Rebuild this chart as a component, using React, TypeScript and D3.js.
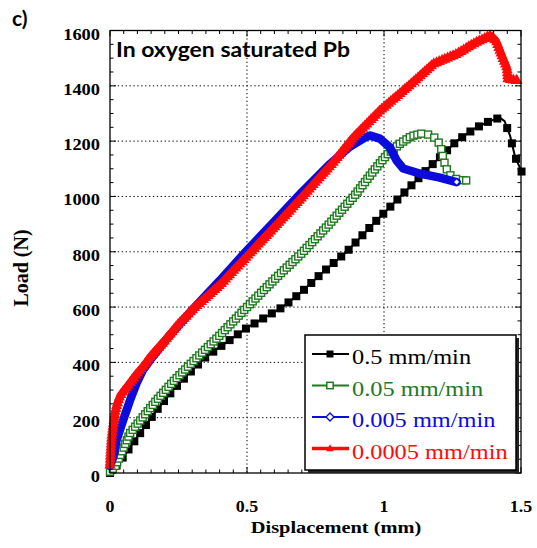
import React from "react";
import * as d3 from "d3";

// ---------- data ----------
const xTickValues = [0, 0.5, 1, 1.5];
const xTickLabels = ["0", "0.5", "1", "1.5"];
const yTickValues = [0, 200, 400, 600, 800, 1000, 1200, 1400, 1600];
const yTickLabels = ["0", "200", "400", "600", "800", "1000", "1200", "1400", "1600"];

const seriesNames = ["0.5 mm/min", "0.05 mm/min", "0.005 mm/min", "0.0005 mm/min"];

const blackX = [0, 0.02, 0.048, 0.11, 0.17, 0.23, 0.29, 0.35, 0.45, 0.5, 0.57, 0.63, 0.7, 0.77, 0.864, 0.96, 1.06, 1.16, 1.265, 1.33, 1.38, 1.423, 1.44, 1.46, 1.478, 1.502];
const blackY = [0, 22, 58, 144, 227, 300, 362, 420, 490, 525, 565, 600, 655, 720, 800, 900, 1000, 1100, 1200, 1245, 1270, 1285, 1272, 1220, 1145, 1090];

const greenX = [0, 0.02, 0.04, 0.073, 0.12, 0.17, 0.23, 0.3, 0.4, 0.5, 0.6, 0.7, 0.8, 0.89, 0.96, 1.01, 1.06, 1.1, 1.14, 1.17, 1.195, 1.208, 1.215, 1.225, 1.245, 1.27, 1.3];
const greenY = [5, 25, 70, 144, 202, 263, 330, 400, 497, 600, 700, 795, 900, 1000, 1090, 1150, 1192, 1218, 1228, 1222, 1205, 1175, 1145, 1105, 1072, 1060, 1058];

const blueX = [0, 0.012, 0.024, 0.048, 0.073, 0.097, 0.12, 0.146, 0.17, 0.207, 0.3, 0.4, 0.5, 0.6, 0.7, 0.8, 0.876, 0.93, 0.95, 0.985, 1.022, 1.046, 1.07, 1.13, 1.2, 1.265];
const blueY = [25, 58, 119, 191, 263, 325, 372, 408, 438, 485, 590, 695, 805, 910, 1015, 1115, 1180, 1213, 1220, 1209, 1177, 1130, 1101, 1083, 1069, 1052];

const redX = [0, 0.003, 0.006, 0.011, 0.018, 0.024, 0.036, 0.06, 0.09, 0.12, 0.146, 0.2, 0.25, 0.31, 0.4, 0.5, 0.6, 0.693, 0.815, 0.887, 0.985, 1.084, 1.18, 1.266, 1.325, 1.387, 1.41, 1.434, 1.449, 1.452, 1.485];
const redY = [30, 90, 130, 170, 220, 245, 280, 310, 350, 385, 420, 480, 540, 600, 680, 785, 890, 990, 1125, 1213, 1311, 1395, 1480, 1516, 1552, 1582, 1563, 1502, 1466, 1425, 1420];

// ---------- layout ----------
const W = 537;
const H = 548;
const L = 110, R = 521, T = 30.5, B = 473;

const C_BLACK = "#000000";
const C_GREEN = "#1e7a1e";
const C_BLUE = "#0b0bdc";
const C_RED = "#ff0a0a";

const SERIF = "'Liberation Serif', 'Times New Roman', serif";
const SANS = "Lato, 'Open Sans', sans-serif";

type P = [number, number];

function sampleAlong(pts: P[], sp1: number, split: number, sp2: number): P[] {
  const out: P[] = [pts[0]];
  let carry = 0;
  for (let i = 1; i < pts.length; i++) {
    const [x0, y0] = pts[i - 1];
    const [x1, y1] = pts[i];
    const seg = Math.hypot(x1 - x0, y1 - y0);
    const sp = i <= split ? sp1 : sp2;
    let d = sp - carry;
    while (d <= seg) {
      out.push([x0 + ((x1 - x0) * d) / seg, y0 + ((y1 - y0) * d) / seg]);
      d += sp;
    }
    carry = seg - (d - sp);
  }
  out.push(pts[pts.length - 1]);
  return out;
}

function SText(props: any) {
  const { x, y, sx = 1, anchor = "start", children, ...rest } = props;
  return (
    <text transform={`translate(${x},${y}) scale(${sx},1)`} textAnchor={anchor} {...rest}>
      {children}
    </text>
  );
}

const tri = (cx: number, cy: number, s: number) =>
  `M${cx},${cy - s * 0.62}L${cx + s * 0.55},${cy + s * 0.38}L${cx - s * 0.55},${cy + s * 0.38}Z`;
const diamond = (cx: number, cy: number, s: number) =>
  `M${cx},${cy - s / 2}L${cx + s / 2},${cy}L${cx},${cy + s / 2}L${cx - s / 2},${cy}Z`;

export default function App() {
  const x = d3.scaleLinear().domain([0, 1.5]).range([L, R]);
  const y = d3.scaleLinear().domain([0, 1600]).range([B, T]);
  const line = d3.line<P>().x((d) => d[0]).y((d) => d[1]);

  const toPts = (xs: number[], ys: number[]): P[] => xs.map((v, i) => [x(v), y(ys[i])]);
  const blackPts = toPts(blackX, blackY);
  const greenPts = toPts(greenX, greenY);
  const bluePts = toPts(blueX, blueY);
  const redPts = toPts(redX, redY);

  const blackIdxPeak = blackY.indexOf(d3.max(blackY) as number);
  const greenIdxPeak = greenY.indexOf(d3.max(greenY) as number);

  const blackMarks = sampleAlong(blackPts, 10, blackIdxPeak, 16);
  const greenMarks = sampleAlong(greenPts, 4, greenIdxPeak, 7);
  const redMarks = sampleAlong(redPts, 3, redPts.length, 3);

  const xMinor = d3.range(0, 1.5001, 0.05);
  const yMinor = d3.range(0, 1600.1, 50);

  const legendX = 305, legendY = 335, legendW = 211, legendH = 135;
  const rowY = [354, 385.5, 417, 448.5];

  return (
    <svg width={W} height={H} style={{ position: "absolute", left: 0, top: 0, background: "#fff" }}>
      <rect x={0} y={0} width={W} height={H} fill="#fff" />
      {/* grid */}
      {xTickValues.filter((v) => v > 0 && v < 1.5).map((v) => (
        <line key={"gx" + v} x1={x(v)} x2={x(v)} y1={T} y2={B} stroke="#000" strokeWidth={1} strokeDasharray="1.3,2.6" />
      ))}
      {yTickValues.filter((v) => v > 0 && v < 1600).map((v) => (
        <line key={"gy" + v} x1={L} x2={R} y1={y(v)} y2={y(v)} stroke="#000" strokeWidth={1} strokeDasharray="1.3,2.6" />
      ))}
      {/* ticks */}
      {xMinor.map((v, i) => {
        const major = i % 10 === 0;
        const len = major ? 6 : 3.5;
        return (
          <g key={"xt" + i}>
            <line x1={x(v)} x2={x(v)} y1={B} y2={B - len} stroke="#000" strokeWidth={1} />
            <line x1={x(v)} x2={x(v)} y1={T} y2={T + len} stroke="#000" strokeWidth={1} />
          </g>
        );
      })}
      {yMinor.map((v, i) => {
        const major = i % 4 === 0;
        const len = major ? 6 : 3.5;
        return (
          <g key={"yt" + i}>
            <line x1={L} x2={L + len} y1={y(v)} y2={y(v)} stroke="#000" strokeWidth={1} />
            <line x1={R} x2={R - len} y1={y(v)} y2={y(v)} stroke="#000" strokeWidth={1} />
          </g>
        );
      })}

      {/* black 0.5 mm/min */}
      <path d={line(blackPts) || ""} fill="none" stroke={C_BLACK} strokeWidth={2} />
      {blackMarks.map((p, i) => (
        <rect key={"bm" + i} x={p[0] - 4} y={p[1] - 4} width={8} height={8} fill={C_BLACK} />
      ))}

      {/* green 0.05 mm/min */}
      <path d={line(greenPts) || ""} fill="none" stroke={C_GREEN} strokeWidth={1.5} />
      {greenMarks.map((p, i) => (
        <rect key={"gm" + i} x={p[0] - 3.5} y={p[1] - 3.5} width={7} height={7} fill="#fff" stroke={C_GREEN} strokeWidth={1.4} />
      ))}

      {/* blue 0.005 mm/min */}
      <path d={line(bluePts) || ""} fill="none" stroke={C_BLUE} strokeWidth={8.5} strokeLinejoin="round" strokeLinecap="round" />
      <path d={diamond(bluePts[bluePts.length - 1][0], bluePts[bluePts.length - 1][1], 7)} fill="#fff" stroke={C_BLUE} strokeWidth={1.3} />

      {/* red 0.0005 mm/min */}
      <path d={line(redPts) || ""} fill="none" stroke={C_RED} strokeWidth={7} strokeLinejoin="round" />
      {redMarks.map((p, i) => (
        <path key={"rm" + i} d={tri(p[0], p[1], 10)} fill={C_RED} />
      ))}

      {/* frame */}
      <rect x={L} y={T} width={R - L} height={B - T} fill="none" stroke="#000" strokeWidth={1.3} />

      {/* tick labels */}
      {xTickValues.map((v, i) => (
        <SText key={"xl" + i} x={x(v)} y={512} sx={1.12} anchor="middle" fontFamily={SERIF} fontWeight="bold" fontSize={16}>
          {xTickLabels[i]}
        </SText>
      ))}
      {yTickValues.map((v, i) => (
        <SText key={"yl" + i} x={100} y={y(v) + 9} sx={1.15} anchor="end" fontFamily={SERIF} fontWeight="bold" fontSize={16}>
          {yTickLabels[i]}
        </SText>
      ))}

      {/* axis titles */}
      <SText x={336} y={533} sx={1.2} anchor="middle" fontFamily={SERIF} fontWeight="bold" fontSize={17}>
        Displacement (mm)
      </SText>
      <text transform="translate(28,268) rotate(-90)" textAnchor="middle" fontFamily={SERIF} fontWeight="bold" fontSize={20}>
        Load (N)
      </text>

      {/* title and panel label */}
      <text x={116} y={57} fontFamily={SANS} fontWeight="bold" fontSize={21} textLength={234} lengthAdjust="spacingAndGlyphs">
        In oxygen saturated Pb
      </text>
      <text x={12} y={26} fontFamily={SANS} fontWeight="bold" fontSize={21}>
        c)
      </text>

      {/* legend */}
      <rect x={legendX + 3} y={legendY + 3} width={legendW} height={legendH} fill="#222" />
      <rect x={legendX} y={legendY} width={legendW} height={legendH} fill="#fff" stroke="#000" strokeWidth={1.5} />
      {seriesNames.map((name, i) => {
        const cy = rowY[i];
        const col = [C_BLACK, C_GREEN, C_BLUE, C_RED][i];
        const lw = [2, 2, 2, 3.5][i];
        let marker: any = null;
        if (i === 0) marker = <rect x={330 - 3.5} y={cy - 3.5} width={7} height={7} fill={C_BLACK} />;
        if (i === 1) marker = <rect x={330 - 3.2} y={cy - 3.2} width={6.4} height={6.4} fill="#fff" stroke={C_GREEN} strokeWidth={1.5} />;
        if (i === 2) marker = <path d={diamond(330, cy, 8)} fill="#fff" stroke={C_BLUE} strokeWidth={1.4} />;
        if (i === 3) marker = <path d={tri(330, cy, 7)} fill={C_RED} />;
        return (
          <g key={"lg" + i}>
            <line x1={312} x2={349} y1={cy} y2={cy} stroke={col} strokeWidth={lw} />
            {marker}
            <SText x={352} y={cy + 10} sx={1.16} fontFamily={SERIF} fontSize={21} fill={col}>
              {name}
            </SText>
          </g>
        );
      })}
    </svg>
  );
}
